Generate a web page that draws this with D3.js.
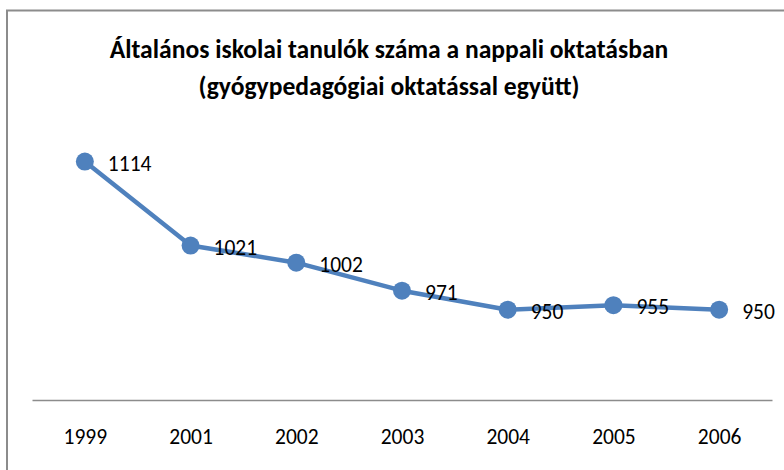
<!DOCTYPE html>
<html>
<head>
<meta charset="utf-8">
<script src="https://cdn.jsdelivr.net/npm/d3@7"></script>
<style>
  body { margin: 0; background: #fff; }
  svg { display: block; font-family: Carlito, Calibri, Lato, sans-serif; }
</style>
</head>
<body>
<div id="chart"></div>
<script>
// Data
const years = ['1999', '2001', '2002', '2003', '2004', '2005', '2006'];
const pupils = [1114, 1021, 1002, 971, 950, 955, 950];
const titleLines = [
  'Általános iskolai tanulók száma a nappali oktatásban',
  '(gyógypedagógiai oktatással együtt)'
];

const width = 784, height = 470;
const margin = { top: 129, right: 12, bottom: 70, left: 32 };
const color = '#4F81BD';

const svg = d3.select('#chart')
  .append('svg')
  .attr('width', width)
  .attr('height', height);

// Chart frame (runs off the right and bottom of the picture)
svg.append('rect')
  .attr('x', 7)
  .attr('y', 10.5)
  .attr('width', 820)
  .attr('height', 520)
  .attr('fill', '#fff')
  .attr('stroke', '#8c8c8c')
  .attr('stroke-width', 2);

// Title
svg.append('g')
  .selectAll('text')
  .data(titleLines)
  .join('text')
  .attr('x', 389)
  .attr('y', (d, i) => 58 + i * 37)
  .attr('text-anchor', 'middle')
  .attr('font-weight', 'bold')
  .attr('font-size', 25.6)
  .attr('fill', '#000')
  .text(d => d);

// Scales
const x = d3.scalePoint()
  .domain(years)
  .range([margin.left, width - margin.right])
  .padding(0.5);

const y = d3.scaleLinear()
  .domain([850, 1150])
  .range([height - margin.bottom, margin.top]);

// X axis: plain line plus labels, no ticks
const xAxis = d3.axisBottom(x)
  .tickSize(0)
  .tickPadding(29);

const xAxisGroup = svg.append('g')
  .attr('transform', `translate(0,${y(850)})`)
  .call(xAxis);

xAxisGroup.select('.domain')
  .attr('stroke', '#8c8c8c')
  .attr('stroke-width', 1.5);

xAxisGroup.selectAll('.tick text')
  .attr('font-family', 'Carlito, Calibri, Lato, sans-serif')
  .attr('font-size', 21.5)
  .attr('fill', '#000');

// Line
const line = d3.line()
  .x((d, i) => x(years[i]))
  .y(d => y(d));

svg.append('path')
  .datum(pupils)
  .attr('fill', 'none')
  .attr('stroke', color)
  .attr('stroke-width', 4.5)
  .attr('stroke-linejoin', 'round')
  .attr('d', line);

// Markers
svg.append('g')
  .selectAll('circle')
  .data(pupils)
  .join('circle')
  .attr('cx', (d, i) => x(years[i]))
  .attr('cy', d => y(d))
  .attr('r', 9)
  .attr('fill', color);

// Data labels to the right of each point
svg.append('g')
  .selectAll('text')
  .data(pupils)
  .join('text')
  .attr('x', (d, i) => x(years[i]) + 23)
  .attr('y', d => y(d) + 9)
  .attr('font-size', 21.5)
  .attr('fill', '#000')
  .text(d => d);
</script>
</body>
</html>
